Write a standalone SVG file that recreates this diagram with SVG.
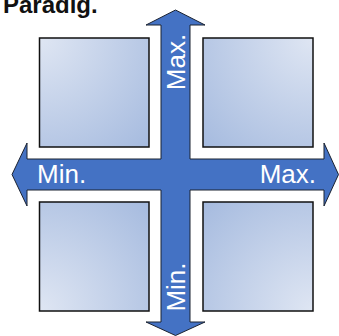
<svg xmlns="http://www.w3.org/2000/svg" width="339" height="336" viewBox="0 0 339 336">
<style>
.box{stroke:#111;stroke-width:1.5}
.lbl{font-family:"Liberation Sans",Arial,sans-serif;font-size:26px;fill:#fff}
.title{font-family:"Liberation Sans",Arial,sans-serif;font-size:24px;font-weight:bold;fill:#111}
</style>
<defs>
<radialGradient id="gTL" cx="0" cy="0" r="1.4" gradientUnits="objectBoundingBox"><stop offset="0" stop-color="#dfe6f3"/><stop offset="1" stop-color="#a6bbdf"/></radialGradient>
<radialGradient id="gTR" cx="1" cy="0" r="1.4" gradientUnits="objectBoundingBox"><stop offset="0" stop-color="#dfe6f3"/><stop offset="1" stop-color="#a6bbdf"/></radialGradient>
<radialGradient id="gBL" cx="0" cy="1" r="1.4" gradientUnits="objectBoundingBox"><stop offset="0" stop-color="#dfe6f3"/><stop offset="1" stop-color="#a6bbdf"/></radialGradient>
<radialGradient id="gBR" cx="1" cy="1" r="1.4" gradientUnits="objectBoundingBox"><stop offset="0" stop-color="#dfe6f3"/><stop offset="1" stop-color="#a6bbdf"/></radialGradient>
</defs>
<rect width="339" height="336" fill="#fff"/>
<text class="title" x="3" y="13">Paradig.</text>
<g id="box-top-left"><rect class="box" x="39.5" y="38" width="109.5" height="109" fill="url(#gTL)"/></g>
<g id="box-top-right"><rect class="box" x="203" y="38" width="110" height="109" fill="url(#gTR)"/></g>
<g id="box-bottom-left"><rect class="box" x="39.5" y="202" width="109.5" height="109" fill="url(#gBL)"/></g>
<g id="box-bottom-right"><rect class="box" x="203" y="202" width="110" height="109" fill="url(#gBR)"/></g>
<g id="connectors">
<path d="M175.5 10 L205 25 L190 25 L190 159 L324 159 L324 143 L338.5 174.5 L324 206 L324 190 L190 190 L190 322 L205 322 L175.5 335.5 L146 322 L161 322 L161 190 L27 190 L27 206 L12 174.5 L27 143 L27 159 L161 159 L161 25 L146 25 Z" fill="#4472c4" stroke="#1b2230" stroke-width="1" stroke-linejoin="miter"/>
<text class="lbl" x="37" y="183">Min.</text>
<text class="lbl" x="316" y="183" text-anchor="end">Max.</text>
<text class="lbl" transform="translate(185,62) rotate(-90)" text-anchor="middle">Max.</text>
<text class="lbl" transform="translate(185,287) rotate(-90)" text-anchor="middle">Min.</text>
</g>
</svg>
